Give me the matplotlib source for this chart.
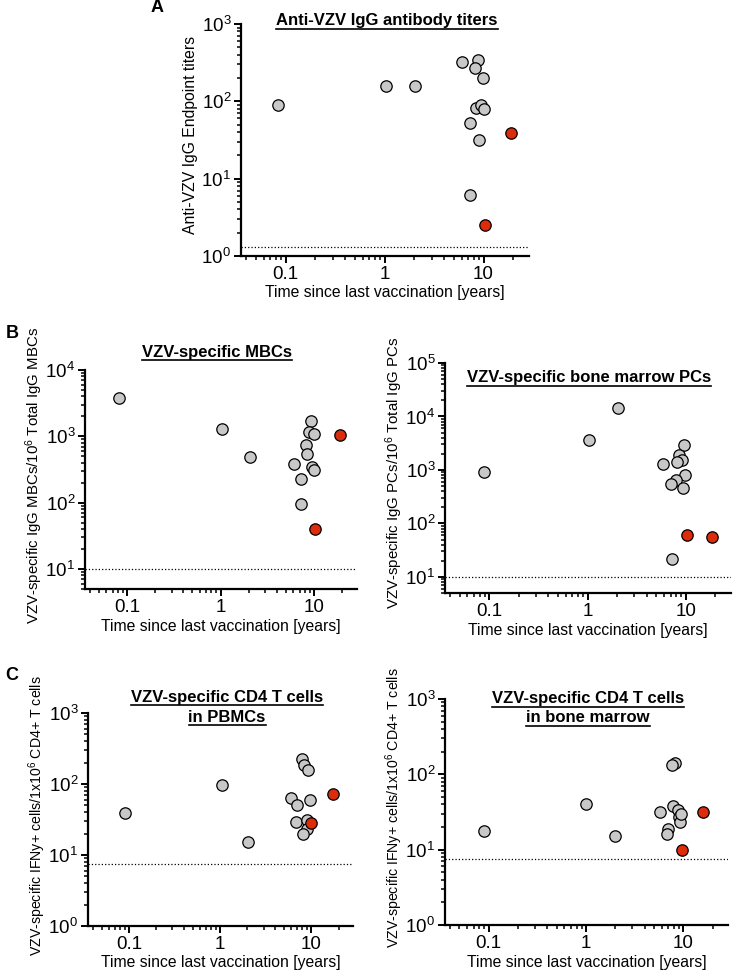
import matplotlib
matplotlib.use('Agg')
import matplotlib.pyplot as plt
from matplotlib.ticker import LogLocator, FixedLocator, FixedFormatter, NullFormatter, LogFormatterSciNotation
from matplotlib.lines import Line2D

plt.rcParams['font.family'] = ['Liberation Sans', 'DejaVu Sans']
plt.rcParams['mathtext.fontset'] = 'custom'
plt.rcParams['mathtext.rm'] = 'Liberation Sans'
plt.rcParams['mathtext.it'] = 'Liberation Sans:italic'
plt.rcParams['mathtext.bf'] = 'Liberation Sans:bold'

# ---- data (years since last vaccination, measured value) ----
# A: antibody titers
a_x_gray = [0.083, 1.03, 2.05, 6.0, 8.8, 8.2, 9.9, 8.4, 9.4, 10.1, 7.3, 9.1, 7.3]
a_y_gray = [90, 158, 158, 320, 340, 270, 200, 83, 89, 80, 52, 32, 6.1]
a_x_red = [19, 10.3]
a_y_red = [39, 2.5]
a_cutoff = 1.31

# B left: memory B cells
mbc_x_gray = [0.083, 1.03, 2.05, 9.3, 8.8, 10.0, 8.2, 8.5, 6.1, 9.4, 10.0, 7.3, 7.3]
mbc_y_gray = [3830, 1280, 495, 1710, 1180, 1085, 738, 550, 380, 345, 314, 230, 96]
mbc_x_red = [19, 10.3]
mbc_y_red = [1060, 40]
mbc_cutoff = 10

# B right: bone marrow plasma cells
pc_x_gray = [0.088, 1.04, 2.05, 9.5, 8.6, 9.2, 8.2, 5.9, 9.8, 8.0, 7.1, 9.25, 7.2]
pc_y_gray = [920, 3700, 14100, 2990, 1880, 1540, 1390, 1300, 790, 640, 550, 460, 22]
pc_x_red = [10.3, 18.3]
pc_y_red = [61, 55]
pc_cutoff = 10

# C left: CD4 T cells in PBMCs
tp_x_gray = [0.09, 1.04, 2.04, 7.9, 8.3, 9.3, 6.0, 7.0, 9.6, 6.9, 9.1, 9.0, 8.1]
tp_y_gray = [39.5, 97, 15, 228, 183, 155, 63, 50, 59, 29.5, 31, 23, 20]
tp_x_red = [17.5, 9.9]
tp_y_red = [72, 28]
tp_cutoff = 7.5

# C right: CD4 T cells in bone marrow
tb_x_gray = [0.09, 1.0, 2.0, 8.2, 7.6, 5.7, 7.9, 8.8, 9.0, 9.25, 6.9, 6.8, 9.5]
tb_y_gray = [17.7, 41, 15, 141, 131, 32, 38, 34, 27, 23.5, 18.6, 16, 30]
tb_x_red = [16, 9.8]
tb_y_red = [32, 9.9]
tb_cutoff = 7.45

x_ticks = [0.1, 1, 10]
x_ticklabels = ['0.1', '1', '10']
xlabel = 'Time since last vaccination [years]'

GRAY = '#c8c8c8'
RED = '#dd2c0c'

W, H = 733, 975
fig = plt.figure(figsize=(W / 100, H / 100), dpi=100)


def add_axes_px(left, right, top, bottom):
    return fig.add_axes([left / W, 1 - bottom / H, (right - left) / W, (bottom - top) / H])


def style_axes(ax, ylim, ylabel, ylabel_size=11.3, xlim=(0.0355, 28.8)):
    ax.set_xscale('log')
    ax.set_yscale('log')
    ax.set_xlim(*xlim)
    ax.set_ylim(*ylim)
    for s in ['top', 'right']:
        ax.spines[s].set_visible(False)
    for s in ['left', 'bottom']:
        ax.spines[s].set_linewidth(1.6)
    ax.xaxis.set_major_locator(FixedLocator(x_ticks))
    ax.xaxis.set_major_formatter(FixedFormatter(x_ticklabels))
    ax.xaxis.set_minor_locator(LogLocator(base=10, subs=range(2, 10), numticks=20))
    ax.xaxis.set_minor_formatter(NullFormatter())
    ax.yaxis.set_major_locator(LogLocator(base=10, numticks=20))
    ax.yaxis.set_major_formatter(LogFormatterSciNotation())
    ax.yaxis.set_minor_locator(LogLocator(base=10, subs=range(2, 10), numticks=20))
    ax.yaxis.set_minor_formatter(NullFormatter())
    ax.tick_params(which='major', length=5, width=1.4, labelsize=13.5, pad=2)
    ax.tick_params(which='minor', length=3, width=1.1)
    ax.set_xlabel(xlabel, fontsize=11.3)
    ax.set_ylabel(ylabel, fontsize=ylabel_size)
    hpx = ax.get_position().height * H
    wpx = ax.get_position().width * W
    ax.xaxis.set_label_coords(0.5, -37 / hpx)
    ax.xaxis.label.set_va('center')
    ax.yaxis.set_label_coords(-51 / wpx, 0.52)
    ax.yaxis.label.set_va('center')


def draw_points(ax, xg, yg, xr, yr, cutoff):
    ax.axhline(cutoff, ls=':', lw=0.9, color='k', zorder=1)
    ax.plot(xg, yg, 'o', ms=8.2, mfc=GRAY, mec='k', mew=0.9, zorder=3, clip_on=False)
    ax.plot(xr, yr, 'o', ms=8.2, mfc=RED, mec='k', mew=0.9, zorder=4, clip_on=False)


titles = []


def add_title(ax, lines, xc, ys):
    for line, y in zip(lines, ys):
        t = ax.text(xc, y, line, transform=ax.transAxes, ha='center', va='center',
                    fontsize=12, fontweight='bold')
        titles.append(t)


# 面板 A
axA = add_axes_px(241, 529, 24, 256)
style_axes(axA, (1, 1000), 'Anti-VZV IgG Endpoint titers')
draw_points(axA, a_x_gray, a_y_gray, a_x_red, a_y_red, a_cutoff)
add_title(axA, ['Anti-VZV IgG antibody titers'], 0.507, [1.013])

# 面板 B
axB1 = add_axes_px(85, 357, 370, 589)
style_axes(axB1, (5, 1e4), 'VZV-specific IgG MBCs/10$^6$ Total IgG MBCs', 10.8)
draw_points(axB1, mbc_x_gray, mbc_y_gray, mbc_x_red, mbc_y_red, mbc_cutoff)
add_title(axB1, ['VZV-specific MBCs'], 0.485, [1.082])

axB2 = add_axes_px(445, 731, 363, 593)
style_axes(axB2, (5, 1e5), 'VZV-specific IgG PCs/10$^6$ Total IgG PCs', 10.8)
draw_points(axB2, pc_x_gray, pc_y_gray, pc_x_red, pc_y_red, pc_cutoff)
add_title(axB2, ['VZV-specific bone marrow PCs'], 0.505, [0.935])

# 面板 C
axC1 = add_axes_px(88, 353, 713, 926)
style_axes(axC1, (1, 1000), 'VZV-specific IFNy+ cells/1x10$^6$ CD4+ T cells', 10.2)
draw_points(axC1, tp_x_gray, tp_y_gray, tp_x_red, tp_y_red, tp_cutoff)
add_title(axC1, ['VZV-specific CD4 T cells', 'in PBMCs'], 0.525, [1.075, 0.981])

axC2 = add_axes_px(445, 728, 699, 925)
style_axes(axC2, (1, 1000), 'VZV-specific IFNy+ cells/1x10$^6$ CD4+ T cells', 10.2)
draw_points(axC2, tb_x_gray, tb_y_gray, tb_x_red, tb_y_red, tb_cutoff)
add_title(axC2, ['VZV-specific CD4 T cells', 'in bone marrow'], 0.505, [1.0, 0.916])

# panel letters
for letter, px, py in [('A', 157, 8), ('B', 12, 333), ('C', 12, 675)]:
    fig.text(px / W, 1 - py / H, letter, fontsize=13, fontweight='bold', ha='center', va='center')

# underline the titles
fig.canvas.draw()
renderer = fig.canvas.get_renderer()
for t in titles:
    bb = t.get_window_extent(renderer)
    y = (bb.y0 - 0.5) / H
    fig.add_artist(Line2D([bb.x0 / W, bb.x1 / W], [y, y], transform=fig.transFigure,
                          color='k', lw=1.2))

fig.savefig('out.png', dpi=100)
